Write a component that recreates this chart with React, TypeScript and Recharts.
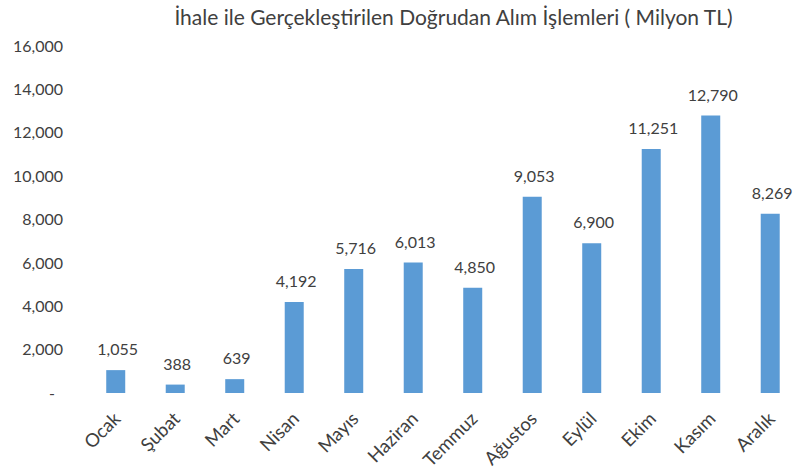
import React from 'react';
import { BarChart, Bar, XAxis, YAxis, LabelList } from 'recharts';

const months = ['Ocak', 'Şubat', 'Mart', 'Nisan', 'Mayıs', 'Haziran', 'Temmuz', 'Ağustos', 'Eylül', 'Ekim', 'Kasım', 'Aralık'];
const amounts = [1055, 388, 639, 4192, 5716, 6013, 4850, 9053, 6900, 11251, 12790, 8269];
const yTicks = [0, 2000, 4000, 6000, 8000, 10000, 12000, 14000, 16000];

const TITLE = 'İhale ile Gerçekleştirilen Doğrudan Alım İşlemleri ( Milyon TL)';
const FONT = 'Lato, "Open Sans", sans-serif';
const TEXT_COLOR = '#404040';
const BAR_COLOR = '#5B9BD5';

const data = months.map((m, i) => ({ month: m, value: amounts[i] }));

const fmt = (v: number) => v.toLocaleString('en-US');

// y ticks: Excel accounting style, zero shown as a dash
const YTick = (props: any) => {
  const { x, y, payload } = props;
  const isZero = payload.value === 0;
  return (
    <text
      x={isZero ? x - 8 : x}
      y={y}
      dy="0.355em"
      textAnchor="end"
      fill={TEXT_COLOR}
      style={{ fontFamily: FONT, fontSize: 16 }}
    >
      {isZero ? '-' : fmt(payload.value)}
    </text>
  );
};

const XTick = (props: any) => {
  const { x, y, payload } = props;
  return (
    <g transform={`translate(${x + 6},${y + 19})`}>
      <text
        x={0}
        y={0}
        textAnchor="end"
        transform="rotate(-45)"
        fill={TEXT_COLOR}
        style={{ fontFamily: FONT, fontSize: 18.5 }}
      >
        {payload.value}
      </text>
    </g>
  );
};

const ValueLabel = (props: any) => {
  const { x, y, width, value } = props;
  return (
    <text
      x={Number(x) + Number(width) / 2 + 2}
      y={Number(y) - 15}
      textAnchor="middle"
      fill={TEXT_COLOR}
      style={{ fontFamily: FONT, fontSize: 16 }}
    >
      {fmt(Number(value))}
    </text>
  );
};

export default function App() {
  return (
    <div
      style={{
        position: 'absolute',
        left: 0,
        top: 0,
        width: 797,
        height: 470,
        overflow: 'hidden',
        background: '#fff',
      }}
    >
      <div
        style={{
          position: 'absolute',
          left: 0,
          width: 907,
          top: 4,
          textAlign: 'center',
          fontFamily: FONT,
          fontSize: 21,
          color: TEXT_COLOR,
          whiteSpace: 'nowrap',
        }}
      >
        {TITLE}
      </div>
      <BarChart
        width={805}
        height={470}
        data={data}
        margin={{ top: 46, right: 5, bottom: 0, left: 0 }}
        barCategoryGap="34%"
      >
        <XAxis
          dataKey="month"
          axisLine={false}
          tickLine={false}
          height={77}
          interval={0}
          tick={<XTick />}
        />
        <YAxis
          width={86}
          domain={[0, 16000]}
          ticks={yTicks}
          axisLine={false}
          tickLine={false}
          tickSize={0}
          tickMargin={23}
          tick={<YTick />}
        />
        <Bar dataKey="value" fill={BAR_COLOR} isAnimationActive={false}>
          <LabelList dataKey="value" content={<ValueLabel />} />
        </Bar>
      </BarChart>
    </div>
  );
}
